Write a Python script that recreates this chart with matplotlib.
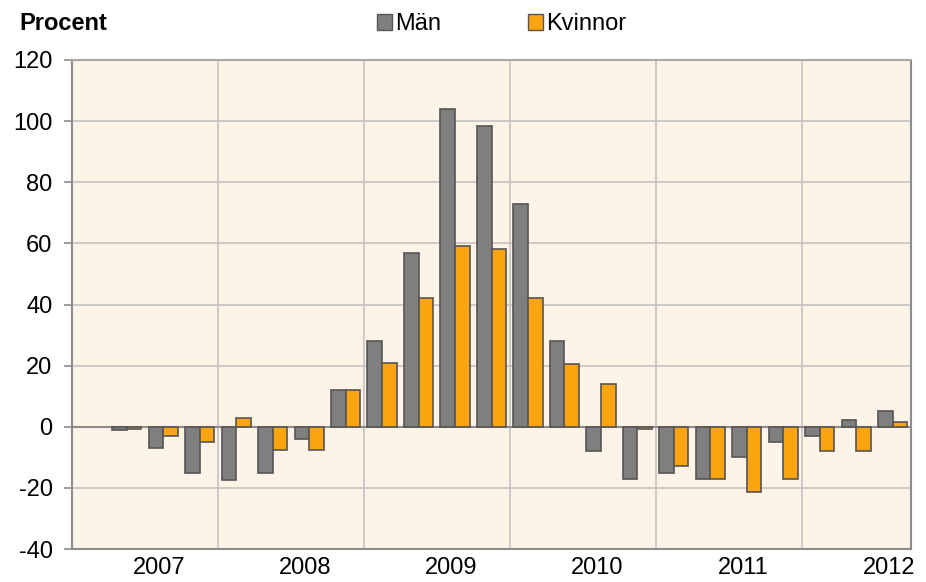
import numpy as np
import matplotlib
matplotlib.use("Agg")
import matplotlib.pyplot as plt
from matplotlib.patches import Patch

plt.rcParams['font.family'] = ['Liberation Sans', 'DejaVu Sans']
plt.rcParams['axes.unicode_minus'] = False

# kvartal 2007 K1 - 2012 K3, förändring i procent
quarters = [f"{y}K{q}" for y in range(2007, 2013) for q in range(1, 5)][:23]
years = ["2007", "2008", "2009", "2010", "2011", "2012"]
man = [np.nan, -1, -7, -15, -17.5, -15, -4, 12, 28, 57, 104, 98.5, 73, 28,
       -8, -17, -15, -17, -10, -5, -3, 2.2, 5]
kvinnor = [np.nan, -0.7, -3, -5, 3, -7.6, -7.6, 12, 21, 42, 59, 58.3, 42, 20.4,
           14, -0.7, -12.8, -17, -21.5, -17, -7.8, -7.8, 1.4]

grey = "#7f7f7f"
orange = "#faa50f"
edge = "#555555"
bg = "#fdf3e6"
gridc = "#c4c4c4"
spinec = "#8c8c8c"
fs = 17

fig = plt.figure(figsize=(9.26, 5.82), dpi=100)
ax = fig.add_axes([72 / 926, 1 - 549 / 582, (911 - 72) / 926, (549 - 60) / 582])
ax.set_facecolor(bg)

x = np.arange(len(quarters))
w = 0.4
ax.bar(x - w / 2, man, w, color=grey, edgecolor=edge, linewidth=1.2, zorder=3)
ax.bar(x + w / 2, kvinnor, w, color=orange, edgecolor=edge, linewidth=1.2, zorder=3)

ax.set_xlim(-0.5, len(quarters) - 0.5)
ax.set_ylim(-40, 120)
ax.set_yticks(range(-40, 121, 20))
ax.yaxis.grid(True, color=gridc, linewidth=1.2, zorder=0)
for b in range(4, len(quarters), 4):
    ax.axvline(b - 0.5, color=gridc, linewidth=1.2, zorder=0)
ax.axhline(0, color=spinec, linewidth=1.5, zorder=2)

ax.set_xticks([4 * k + 1.9 for k in range(len(years))])
ax.set_xticklabels(years)
ax.tick_params(axis='x', length=0, pad=6, labelsize=fs)
ax.tick_params(axis='y', length=6, width=1.2, color=spinec, pad=8, labelsize=fs)

for s in ax.spines.values():
    s.set_color(spinec)
    s.set_linewidth(1.5)
ax.spines['top'].set_color("#a8a8a8")

fig.text(19 / 926, 1 - 24 / 582, "Procent", fontsize=fs, fontweight='bold', va='center')

handles = [Patch(facecolor=grey, edgecolor=edge, label="Män"),
           Patch(facecolor=orange, edgecolor=edge, label="Kvinnor")]
fig.legend(handles=handles, loc='center left', bbox_to_anchor=(377 / 926, 1 - 24 / 582),
           ncol=2, frameon=False, fontsize=fs, borderpad=0, handlelength=0.65,
           handleheight=0.65, handletextpad=0.1, columnspacing=3.7, borderaxespad=0)

fig.savefig("out.png", dpi=100)
